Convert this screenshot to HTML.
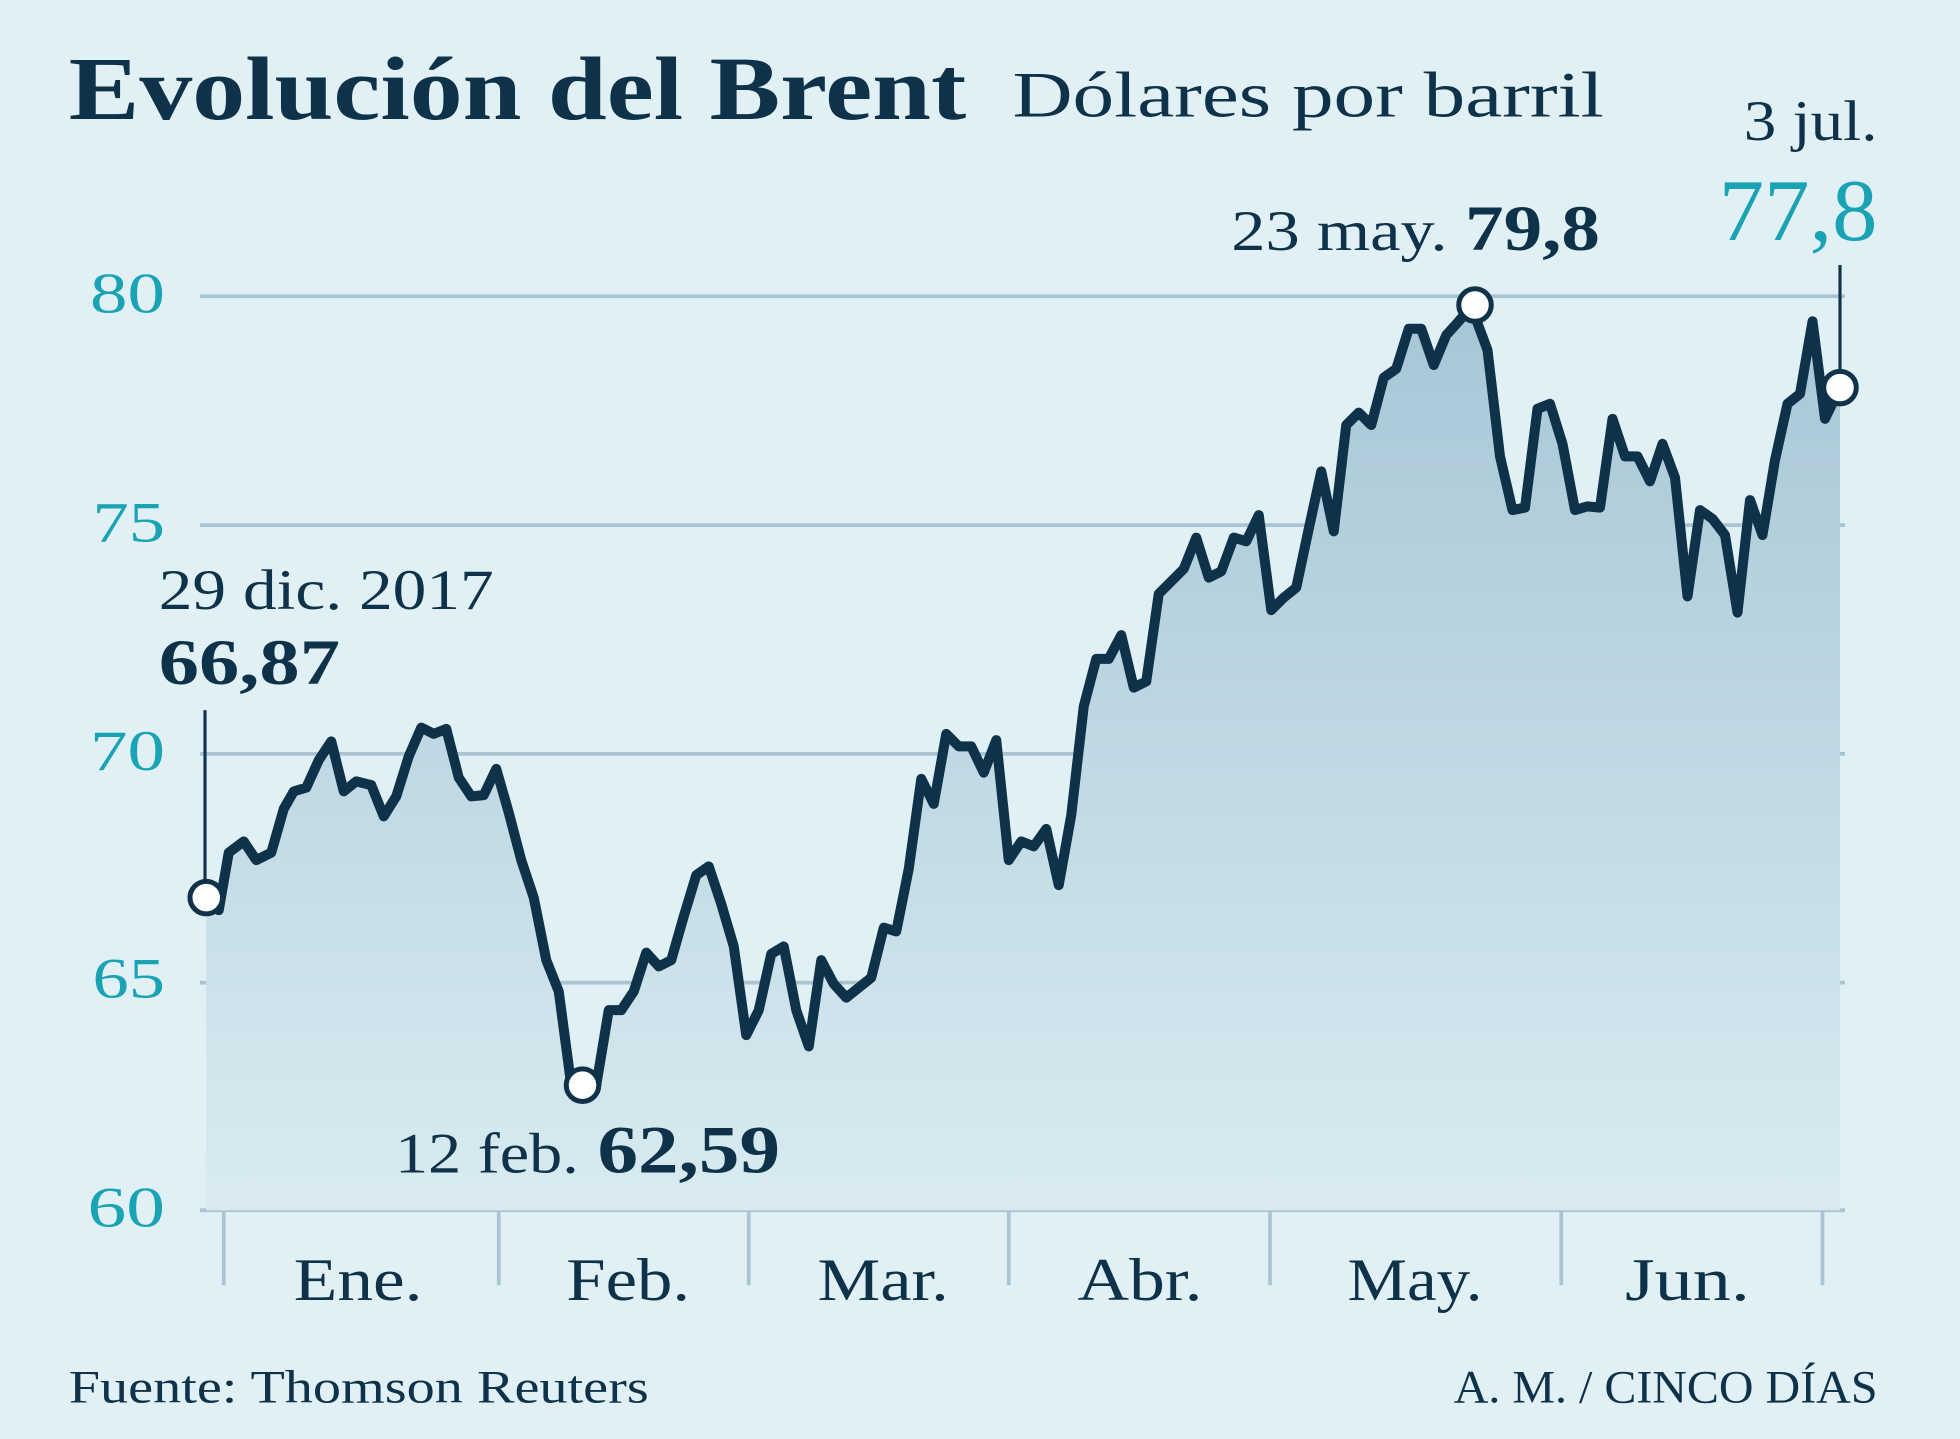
<!DOCTYPE html>
<html><head><meta charset="utf-8"><style>
html,body{margin:0;padding:0;background:#e1f0f4;}
svg{display:block;}
text{font-family:"Liberation Serif",serif;}
</style></head><body>
<svg width="1960" height="1439" viewBox="0 0 1568 1151" preserveAspectRatio="none">
<defs><linearGradient id="g" x1="0" y1="0" x2="0" y2="1"><stop offset="0" stop-color="#a7c6d5"/><stop offset="1" stop-color="#d9ebf1"/></linearGradient></defs>
<rect width="1568" height="1151" fill="#e1f0f4"/>
<text x="55" y="95" font-size="72" font-weight="bold" fill="#0e3249" textLength="718" lengthAdjust="spacingAndGlyphs">Evolución del Brent</text>
<text x="810" y="93" font-size="52" fill="#0e3249" textLength="473" lengthAdjust="spacingAndGlyphs">Dólares por barril</text>
<g stroke="#a9c5d2" stroke-width="3">
<line x1="160" y1="237" x2="1476" y2="237"/><line x1="160" y1="420" x2="1476" y2="420"/>
<line x1="160" y1="603" x2="1476" y2="603"/><line x1="160" y1="786" x2="1476" y2="786"/>
<line x1="160" y1="968" x2="1476" y2="968"/>
<line x1="179" y1="968" x2="179" y2="1028"/><line x1="399" y1="968" x2="399" y2="1028"/>
<line x1="599" y1="968" x2="599" y2="1028"/><line x1="807" y1="968" x2="807" y2="1028"/>
<line x1="1016" y1="968" x2="1016" y2="1028"/><line x1="1249" y1="968" x2="1249" y2="1028"/>
<line x1="1458" y1="968" x2="1458" y2="1028"/>
</g>
<g font-size="46" fill="#1aa3b5">
<text x="72" y="250" textLength="60" lengthAdjust="spacingAndGlyphs">80</text><text x="74" y="433" textLength="58" lengthAdjust="spacingAndGlyphs">75</text><text x="72" y="616" textLength="60" lengthAdjust="spacingAndGlyphs">70</text><text x="74" y="798" textLength="58" lengthAdjust="spacingAndGlyphs">65</text><text x="70" y="981" textLength="62" lengthAdjust="spacingAndGlyphs">60</text>
</g>
<g font-size="48" fill="#0e3249">
<text x="235" y="1040" textLength="103" lengthAdjust="spacingAndGlyphs">Ene.</text><text x="453" y="1040" textLength="99" lengthAdjust="spacingAndGlyphs">Feb.</text><text x="654" y="1040" textLength="105" lengthAdjust="spacingAndGlyphs">Mar.</text><text x="862" y="1040" textLength="100" lengthAdjust="spacingAndGlyphs">Abr.</text><text x="1078" y="1040" textLength="108" lengthAdjust="spacingAndGlyphs">May.</text><text x="1300" y="1040" textLength="100" lengthAdjust="spacingAndGlyphs">Jun.</text>
</g>
<polygon fill="url(#g)" points="165,968 165,718 175,728 183,682 195,673 205,688 217,682 227,647 235,633 245,630 255,608 265,593 275,633 285,625 297,628 307,653 317,637 327,605 337,582 347,587 357,583 367,622 377,637 387,636 397,615 407,650 417,688 427,718 437,768 447,793 457,868 467,868 477,868 487,808 497,808 507,793 517,762 527,773 537,768 547,733 557,700 567,693 577,723 587,757 597,828 607,808 617,763 627,757 637,808 647,837 657,768 667,787 677,798 687,790 697,782 707,742 717,745 727,695 737,623 747,643 757,587 767,597 777,597 787,618 797,592 807,688 817,673 827,677 837,663 847,708 857,652 867,565 877,527 887,527 897,508 907,550 917,545 927,475 937,465 947,455 957,430 967,462 977,457 987,430 997,433 1007,412 1017,488 1027,478 1037,470 1047,423 1057,377 1067,425 1077,340 1087,330 1097,340 1107,302 1117,295 1127,263 1137,263 1147,292 1157,268 1167,257 1177,245 1190,280 1200,365 1210,408 1220,406 1230,327 1240,323 1250,355 1260,408 1270,405 1280,406 1290,335 1300,365 1310,365 1320,385 1330,355 1340,382 1350,477 1360,408 1370,415 1380,428 1390,490 1400,400 1410,428 1420,368 1430,323 1440,315 1450,257 1460,335 1472,310 1472,968"/>
<polyline fill="none" stroke="#0e3249" stroke-width="8" stroke-linejoin="round" stroke-linecap="round" points="165,718 175,728 183,682 195,673 205,688 217,682 227,647 235,633 245,630 255,608 265,593 275,633 285,625 297,628 307,653 317,637 327,605 337,582 347,587 357,583 367,622 377,637 387,636 397,615 407,650 417,688 427,718 437,768 447,793 457,868 467,868 477,868 487,808 497,808 507,793 517,762 527,773 537,768 547,733 557,700 567,693 577,723 587,757 597,828 607,808 617,763 627,757 637,808 647,837 657,768 667,787 677,798 687,790 697,782 707,742 717,745 727,695 737,623 747,643 757,587 767,597 777,597 787,618 797,592 807,688 817,673 827,677 837,663 847,708 857,652 867,565 877,527 887,527 897,508 907,550 917,545 927,475 937,465 947,455 957,430 967,462 977,457 987,430 997,433 1007,412 1017,488 1027,478 1037,470 1047,423 1057,377 1067,425 1077,340 1087,330 1097,340 1107,302 1117,295 1127,263 1137,263 1147,292 1157,268 1167,257 1177,245 1190,280 1200,365 1210,408 1220,406 1230,327 1240,323 1250,355 1260,408 1270,405 1280,406 1290,335 1300,365 1310,365 1320,385 1330,355 1340,382 1350,477 1360,408 1370,415 1380,428 1390,490 1400,400 1410,428 1420,368 1430,323 1440,315 1450,257 1460,335 1472,310"/>
<g stroke="#0e3249" stroke-width="2.5"><line x1="164" y1="568" x2="164" y2="718"/><line x1="1472" y1="212" x2="1472" y2="310"/></g>
<g fill="#fff" stroke="#0e3249" stroke-width="4">
<circle cx="165" cy="718" r="13"/><circle cx="466" cy="868" r="13"/><circle cx="1180" cy="244" r="13"/><circle cx="1472" cy="310" r="13"/>
</g>
<g fill="#0e3249">
<text x="127" y="487" font-size="46" textLength="268" lengthAdjust="spacingAndGlyphs">29 dic. 2017</text>
<text x="127" y="547" font-size="52" font-weight="bold" textLength="145" lengthAdjust="spacingAndGlyphs">66,87</text>
<text x="316" y="938" font-size="46" textLength="147" lengthAdjust="spacingAndGlyphs">12 feb.</text>
<text x="478" y="938" font-size="54" font-weight="bold" textLength="146" lengthAdjust="spacingAndGlyphs">62,59</text>
<text x="985" y="200" font-size="46" textLength="173" lengthAdjust="spacingAndGlyphs">23 may.</text>
<text x="1172" y="200" font-size="52" font-weight="bold" textLength="108" lengthAdjust="spacingAndGlyphs">79,8</text>
<text x="1395" y="112" font-size="46" textLength="107" lengthAdjust="spacingAndGlyphs">3 jul.</text>
</g>
<text x="1375" y="192" font-size="70" fill="#1aa3b5" textLength="127" lengthAdjust="spacingAndGlyphs">77,8</text>
<text x="55" y="1122" font-size="37" fill="#0e3249" textLength="464" lengthAdjust="spacingAndGlyphs">Fuente: Thomson Reuters</text>
<text x="1163" y="1122" font-size="37" fill="#0e3249" textLength="339" lengthAdjust="spacingAndGlyphs">A. M. / CINCO DÍAS</text>
</svg>
</body></html>
